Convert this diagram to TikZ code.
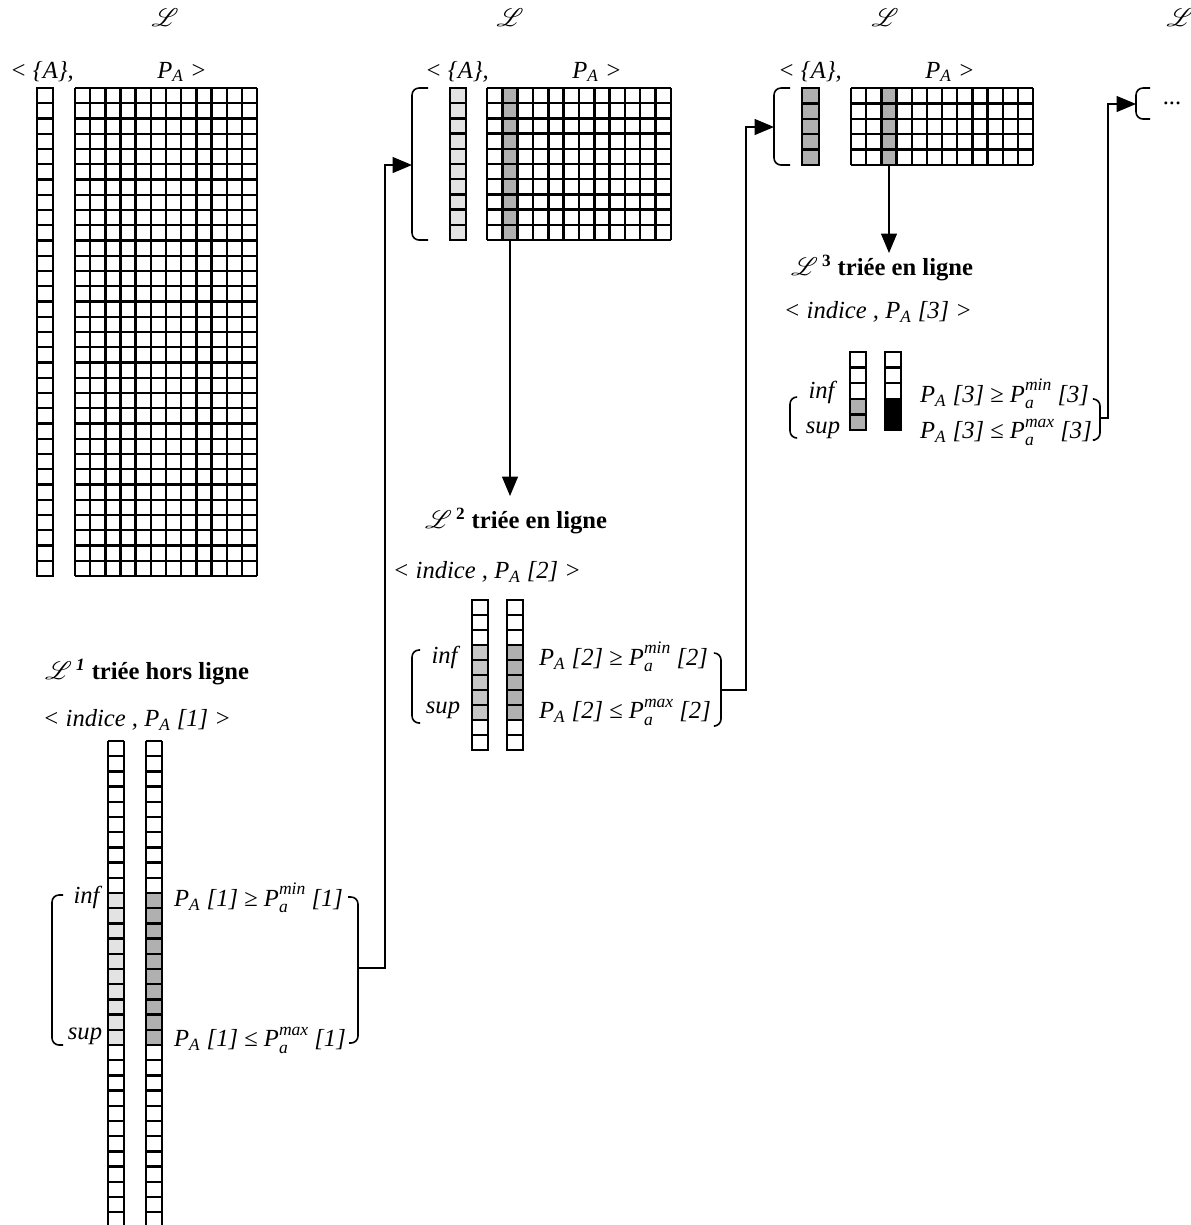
\documentclass[tikz,border=0pt]{standalone}
\usepackage{fontspec}
\setmainfont{Liberation Serif}
\usepackage{mathrsfs}
\usepackage{tikz}
\usetikzlibrary{arrows.meta}
\newcommand{\PA}{\textit{P}\textsubscript{\textit{A}}}
\newcommand{\Pbound}[1]{\textit{P}\rlap{\raisebox{-0.55ex}{\fontsize{10}{10}\selectfont\textit{a}}}\raisebox{1.05ex}{\fontsize{10}{10}\selectfont\textit{#1}}}
\newcommand{\Lsc}{$\mathscr{L}$}

\begin{document}
\begin{tikzpicture}[x=0.02cm,y=-0.02cm,font=\fontsize{14}{16}\selectfont,
  every node/.style={inner sep=1pt},
  cell/.style={line width=1.35pt},
  light/.style={fill=gray!22},
  mid/.style={fill=gray!45},
  dark/.style={fill=gray!62},
  conn/.style={line width=0.9pt},
  arr/.style={conn,-{Triangle[length=11pt,width=9pt]}},
  brk/.style={line width=0.9pt,rounded corners=4pt}]
  \useasboundingbox (0,0) rectangle (1191,1225);
  % top labels
  \foreach \x/\n in {165/L0,510/L1,885/L2,1180/L3}
    \node (\n) at (\x,18) {\Lsc};
  \foreach \x/\y/\n in {42/182/0,457/597/1,810/950/2}{
    \node (set\n) at (\x,72) {\textit{< \{A\},}};
    \node (pa\n) at (\y,72) {\PA\textit{ >}};}
  % first panel: full table
  \draw[cell] (37,88) rectangle (53,576);
  \foreach \j in {1,...,31} \draw[cell] (37,{88+15.25*\j}) -- (53,{88+15.25*\j});
  \foreach \i in {0,...,12} \draw[cell] ({75+15.17*\i},88) -- ({75+15.17*\i},576);
  \foreach \j in {0,...,32} \draw[cell] (75,{88+15.25*\j}) -- (257,{88+15.25*\j});
  % L1 sorted off line
  \node[font=\fontsize{14}{16}\selectfont\bfseries] (tri1) at (147,672) {\Lsc\,\textsuperscript{\textit{1}} triée hors ligne};
  \node (idx1) at (137,720) {\textit{< indice ,\ }\PA\textit{ [1] >}};
  \fill[light] (108,{741+15.2*10}) rectangle (124,{741+15.2*20});
  \fill[dark] (146,{741+15.2*10}) rectangle (162,{741+15.2*20});
  \foreach \x in {108,146}{
    \draw[cell] (\x,741) -- (\x,1230) (\x+16,741) -- (\x+16,1230);
    \foreach \j in {0,...,31} \draw[cell] (\x,{741+15.2*\j}) -- (\x+16,{741+15.2*\j});}
  \node (inf1) at (88,897) {\textit{inf}};
  \node (sup1) at (85,1036) {\textit{sup}};
  \draw[brk] (63,895) -- (52,895) -- (52,1045) -- (63,1045);
  \node[anchor=west] (ge1) at (172,898) {\PA\textit{ [1]} ≥ \Pbound{min}\textit{ [1]}};
  \node[anchor=west] (le1) at (172,1040) {\PA\textit{ [1]} ≤ \Pbound{max}\textit{ [1]}};
  \draw[brk] (348,897) -- (358,897) -- (358,1043) -- (349,1043);
  \coordinate (r1) at (358,968);
  % second panel
  \draw[brk] (428,88) -- (412,88) -- (412,240) -- (428,240);
  \coordinate (t2) at (412,165);
  \fill[light] (450,88) rectangle (466,240);
  \draw[cell] (450,88) rectangle (466,240);
  \foreach \j in {1,...,9} \draw[cell] (450,{88+15.2*\j}) -- (466,{88+15.2*\j});
  \fill[dark] ({487+15.33},88) rectangle ({487+15.33*2},240);
  \foreach \i in {0,...,12} \draw[cell] ({487+15.33*\i},88) -- ({487+15.33*\i},240);
  \foreach \j in {0,...,10} \draw[cell] (487,{88+15.2*\j}) -- (671,{88+15.2*\j});
  \draw[arr] (r1) -- ++(27,0) |- (t2);
  % L2 sorted on line
  \coordinate (d2) at (510,240);
  \coordinate (e2) at (510,496);
  \draw[arr] (d2) -- (e2);
  \node[font=\fontsize{14}{16}\selectfont\bfseries] (tri2) at (516,521) {\Lsc\,\textsuperscript{2} triée en ligne};
  \node (idx2) at (487,572) {\textit{< indice , }\PA\textit{ [2] >}};
  \fill[mid] (472,645) rectangle (488,720);
  \fill[dark] (507,645) rectangle (523,720);
  \foreach \x in {472,507}{
    \draw[cell] (\x,600) rectangle (\x+16,750);
    \foreach \j in {1,...,9} \draw[cell] (\x,{600+15*\j}) -- (\x+16,{600+15*\j});}
  \node (inf2) at (446,657) {\textit{inf}};
  \node (sup2) at (443,710) {\textit{sup}};
  \draw[brk] (420,650) -- (412,650) -- (412,723) -- (420,723);
  \node[anchor=west] (ge2) at (537,657) {\PA\textit{ [2]} ≥ \Pbound{min}\textit{ [2]}};
  \node[anchor=west] (le2) at (537,712) {\PA\textit{ [2]} ≤ \Pbound{max}\textit{ [2]}};
  \draw[brk] (714,653) -- (721,653) -- (721,726) -- (715,726);
  \coordinate (r2) at (721,690);
  % third panel
  \draw[brk] (790,88) -- (774,88) -- (774,165) -- (790,165);
  \coordinate (t3) at (774,127);
  \fill[dark] (802,88) rectangle (819,165);
  \draw[cell] (802,88) rectangle (819,165);
  \foreach \j in {1,...,4} \draw[cell] (802,{88+15.4*\j}) -- (819,{88+15.4*\j});
  \fill[dark] ({851+15.17*2},88) rectangle ({851+15.17*3},165);
  \foreach \i in {0,...,12} \draw[cell] ({851+15.17*\i},88) -- ({851+15.17*\i},165);
  \foreach \j in {0,...,5} \draw[cell] (851,{88+15.4*\j}) -- (1033,{88+15.4*\j});
  \draw[arr] (r2) -- ++(25,0) |- (t3);
  % L3 sorted on line
  \coordinate (d3) at (889,165);
  \coordinate (e3) at (889,253);
  \draw[arr] (d3) -- (e3);
  \node[font=\fontsize{14}{16}\selectfont\bfseries] (tri3) at (882,268) {\Lsc\,\textsuperscript{3} triée en ligne};
  \node (idx3) at (878,312) {\textit{< indice , }\PA\textit{ [3] >}};
  \fill[dark] (850,{352+15.6*3}) rectangle (866,430);
  \fill[black] (885,{352+15.6*3}) rectangle (901,430);
  \foreach \x in {850,885}{
    \draw[cell] (\x,352) rectangle (\x+16,430);
    \foreach \j in {1,...,4} \draw[cell] (\x,{352+15.6*\j}) -- (\x+16,{352+15.6*\j});}
  \node (inf3) at (823,392) {\textit{inf}};
  \node (sup3) at (823,430) {\textit{sup}};
  \draw[brk] (797,397) -- (790,397) -- (790,438) -- (797,438);
  \node[anchor=west] (ge3) at (918,394) {\PA\textit{ [3]} ≥ \Pbound{min}\textit{ [3]}};
  \node[anchor=west] (le3) at (918,432) {\PA\textit{ [3]} ≤ \Pbound{max}\textit{ [3]}};
  \draw[brk] (1094,399) -- (1100,399) -- (1100,440) -- (1095,440);
  \coordinate (r3) at (1100,418);
  % fourth panel
  \draw[brk] (1150,88) -- (1136,88) -- (1136,119) -- (1150,119);
  \coordinate (t4) at (1136,104);
  \node (more) at (1172,103) {...};
  \draw[arr] (r3) -- ++(8,0) |- (t4);
\end{tikzpicture}
\end{document}
